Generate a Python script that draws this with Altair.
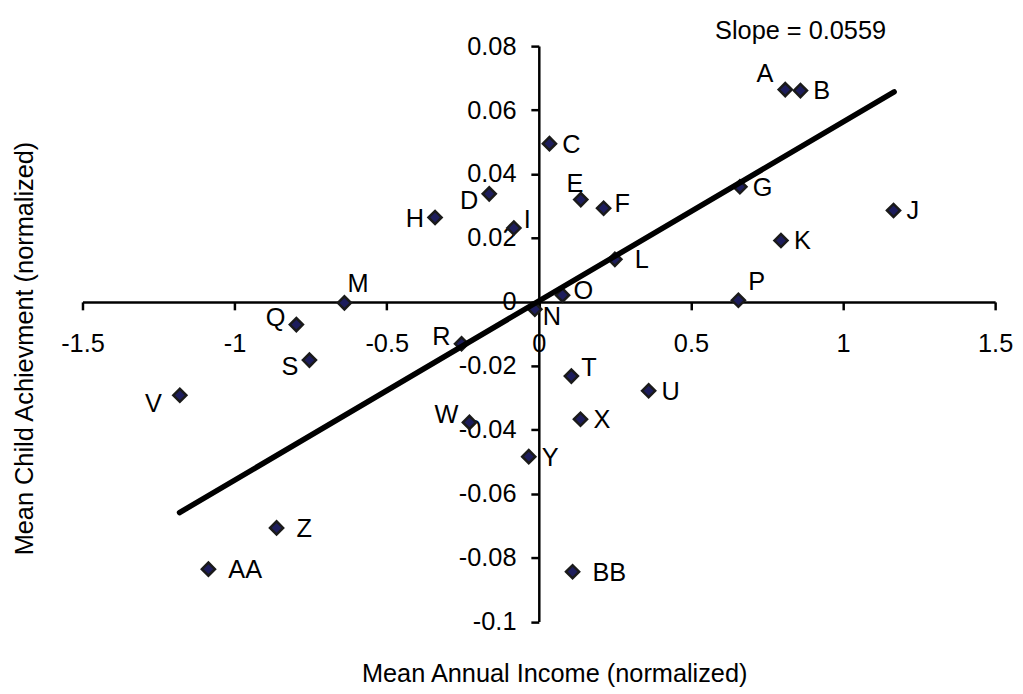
import altair as alt
import pandas as pd

# ---- data ----
names = ["A", "B", "C", "D", "E", "F", "G", "H", "I", "J", "K", "L", "M", "N",
         "O", "P", "Q", "R", "S", "T", "U", "V", "W", "X", "Y", "Z", "AA", "BB"]
income = [0.81, 0.86, 0.035, -0.163, 0.138, 0.213, 0.661, -0.341, -0.082, 1.166,
          0.796, 0.25, -0.639, -0.013, 0.078, 0.656, -0.797, -0.254, -0.754, 0.107,
          0.361, -1.18, -0.228, 0.137, -0.033, -0.862, -1.086, 0.111]
achievement = [0.0664, 0.0661, 0.0495, 0.0338, 0.032, 0.0293, 0.036, 0.0264, 0.0231,
               0.0286, 0.0192, 0.0133, -0.0003, -0.0023, 0.0021, 0.0005, -0.0071,
               -0.0131, -0.0182, -0.0232, -0.0278, -0.0292, -0.0377, -0.0367,
               -0.0484, -0.0707, -0.0836, -0.0844]
fit_x = [-1.181, 1.168]
fit_y = [-0.0659, 0.0657]
x_ticks = [-1.5, -1, -0.5, 0, 0.5, 1, 1.5]
y_ticks = [-0.1, -0.08, -0.06, -0.04, -0.02, 0, 0.02, 0.04, 0.06, 0.08]
slope_text = "Slope = 0.0559"
x_title = "Mean Annual Income (normalized)"
y_title = "Mean Child Achievment (normalized)"

# which side of its point each label sits on
label_groups = {
    "r": ["B", "C", "G", "J", "K", "X", "Y", "U"],
    "rf": ["L", "Z", "AA", "BB"],
    "ru": ["F", "O"],
    "ru2": ["I", "T"],
    "rd": ["N"],
    "ar": ["M"],
    "ar2": ["P"],
    "al": ["A"],
    "a": ["E"],
    "l": ["H"],
    "lu": ["Q", "R", "W"],
    "ld": ["D", "S"],
    "ld2": ["V"],
}
placement = {
    "r": ("left", 13, 1), "rf": ("left", 20, 1), "ru": ("left", 11, -4),
    "ru2": ("left", 10, -8), "rd": ("left", 8, 8), "ar": ("left", 3, -19),
    "ar2": ("left", 10, -18), "al": ("right", -12, -16), "a": ("center", -6, -16),
    "l": ("right", -11, 2), "lu": ("right", -11, -7), "ld": ("right", -11, 7),
    "ld2": ("right", -18, 9),
}

pts = pd.DataFrame({"name": names, "x": income, "y": achievement})
fit = pd.DataFrame({"x": fit_x, "y": fit_y})

FONT = "Liberation Sans"
FS = 25.5
W, H = 919, 579.5

xscale = alt.Scale(domain=[-1.5, 1.5], nice=False, zero=False)
yscale = alt.Scale(domain=[-0.1, 0.08], nice=False, zero=False)

xaxis = alt.Axis(
    values=x_ticks, labelExpr="'' + datum.value", orient="bottom",
    offset=-(H * 0.1 / 0.18), grid=False,
    domainColor="black", domainWidth=2.5, tickColor="black", tickWidth=2.5,
    tickSize=8, labelFont=FONT, labelFontSize=FS, labelColor="black",
    labelPadding=21.5, labelFlush=False, labelOverlap=False,
    title=x_title, titleFont=FONT, titleFontSize=FS, titleFontWeight="normal",
    titleColor="black", titleX=475, titleY=382.5, titleBaseline="alphabetic",
    titleAlign="center",
)
yaxis = alt.Axis(
    values=y_ticks, labelExpr="'' + datum.value", orient="left",
    offset=-(W / 2), grid=False,
    domainColor="black", domainWidth=2.5, tickColor="black", tickWidth=2.5,
    tickSize=8, labelFont=FONT, labelFontSize=FS, labelColor="black",
    labelPadding=15, labelFlush=False, labelOverlap=False,
    title=y_title, titleFont=FONT, titleFontSize=FS, titleFontWeight="normal",
    titleColor="black", titleX=-510, titleY=304, titleAngle=270,
    titleBaseline="alphabetic", titleAlign="center",
)

points = alt.Chart(pts).mark_point(
    shape="diamond", filled=True, fill="#1d1d5c", stroke="#1a1a1a",
    strokeWidth=2.5, size=175, opacity=1,
).encode(
    x=alt.X("x:Q", scale=xscale, axis=xaxis),
    y=alt.Y("y:Q", scale=yscale, axis=yaxis),
)

line = alt.Chart(fit).mark_line(
    color="black", strokeWidth=5.5, strokeCap="round",
).encode(x=alt.X("x:Q", scale=xscale), y=alt.Y("y:Q", scale=yscale))

label_layers = []
for grp, members in label_groups.items():
    align, dx, dy = placement[grp]
    label_layers.append(
        alt.Chart(pts).transform_filter(
            alt.FieldOneOfPredicate(field="name", oneOf=members)
        ).mark_text(
            align=align, baseline="middle", dx=dx, dy=dy,
            font=FONT, fontSize=FS, color="black",
        ).encode(
            x=alt.X("x:Q", scale=xscale), y=alt.Y("y:Q", scale=yscale),
            text="name:N",
        )
    )

chart = alt.layer(points, line, *label_layers).properties(
    width=W, height=H,
    background="white",
    autosize=alt.AutoSizeParams(type="none"),
    padding={"left": 75, "top": 36, "right": 20, "bottom": 70},
    title=alt.TitleParams(
        slope_text, anchor="start", frame="group", dx=637, font=FONT,
        fontSize=FS, fontWeight="normal", color="black",
        baseline="alphabetic", offset=-30,
    ),
).configure_view(strokeWidth=0, stroke=None)

chart.save("out.html", embed_options={"renderer": "svg", "actions": False})
